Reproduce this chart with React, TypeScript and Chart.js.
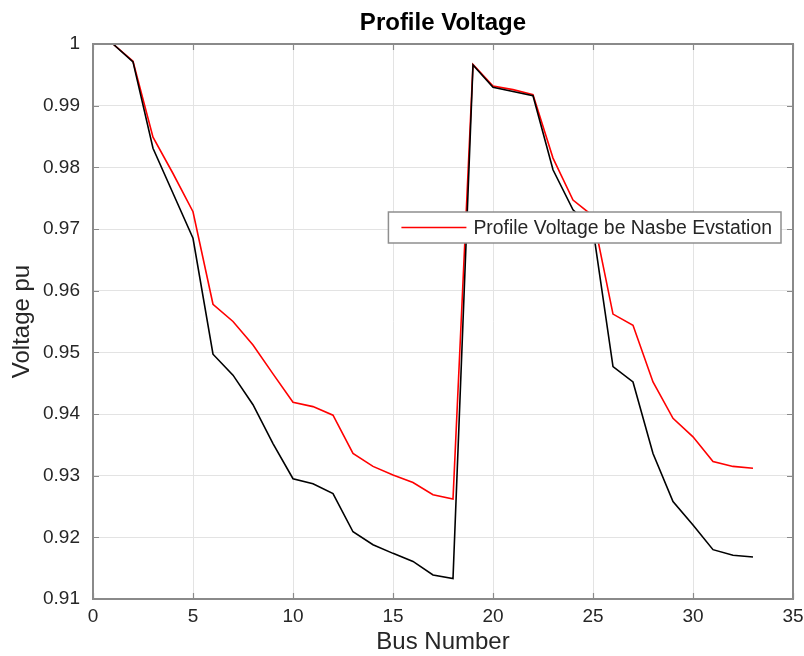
import React, { useEffect, useRef } from "react";
import { Chart, registerables } from "chart.js";

Chart.register(...registerables);

const busNumbers = [1, 2, 3, 4, 5, 6, 7, 8, 9, 10, 11, 12, 13, 14, 15, 16, 17, 18, 19, 20, 21, 22, 23, 24, 25, 26, 27, 28, 29, 30, 31, 32, 33];

const voltageBase = [
  1.0, 0.9971, 0.9831, 0.9758, 0.9685, 0.9497, 0.9463, 0.9415, 0.9352, 0.9295,
  0.9287, 0.9271, 0.9209, 0.9188, 0.9174, 0.9161, 0.9139, 0.9133, 0.9966, 0.993,
  0.9923, 0.9916, 0.9796, 0.9731, 0.97, 0.9477, 0.9452, 0.9336, 0.9258, 0.922,
  0.918, 0.9171, 0.9168,
];

const voltageEv = [
  1.0, 0.9972, 0.9849, 0.979, 0.9728, 0.9578, 0.955, 0.9512, 0.9465, 0.9419,
  0.9412, 0.9398, 0.9336, 0.9315, 0.9301, 0.9289, 0.9269, 0.9262, 0.9967, 0.9932,
  0.9926, 0.9918, 0.9815, 0.9747, 0.9721, 0.9562, 0.9544, 0.9452, 0.9393, 0.9363,
  0.9323, 0.9315, 0.9312,
];

const titleText = "Profile Voltage";
const xTitle = "Bus Number";
const yTitle = "Voltage pu";
const legendLabel = "Profile Voltage be Nasbe Evstation";
const xTicks = [0, 5, 10, 15, 20, 25, 30, 35];

const FONT = "'Liberation Sans', Arial, Helvetica, sans-serif";

const frameAndLegend = {
  id: "frameAndLegend",
  afterDraw(chart: any) {
    const { ctx, chartArea: a, scales } = chart;
    const xs = scales.x;
    const ys = scales.y;
    ctx.save();
    ctx.strokeStyle = "#8a8a8a";
    ctx.lineWidth = 1.2;
    ctx.beginPath();
    xs.ticks.forEach((t: any) => {
      const px = Math.round(xs.getPixelForValue(t.value)) + 0.5;
      ctx.moveTo(px, a.bottom);
      ctx.lineTo(px, a.bottom - 6);
      ctx.moveTo(px, a.top);
      ctx.lineTo(px, a.top + 6);
    });
    ys.ticks.forEach((t: any) => {
      const py = Math.round(ys.getPixelForValue(t.value)) + 0.5;
      ctx.moveTo(a.left, py);
      ctx.lineTo(a.left + 6, py);
      ctx.moveTo(a.right, py);
      ctx.lineTo(a.right - 6, py);
    });
    ctx.stroke();
    ctx.strokeStyle = "#8a8a8a";
    ctx.lineWidth = 2;
    ctx.strokeRect(a.left, a.top, a.right - a.left, a.bottom - a.top);

    ctx.font = `19.4px ${FONT}`;
    const tw = ctx.measureText(legendLabel).width;
    const w = 85 + tw + 9;
    const h = 31;
    const right = a.right - 12;
    const left = right - w;
    const top = a.top + 168;
    ctx.fillStyle = "#ffffff";
    ctx.fillRect(left, top, w, h);
    ctx.strokeStyle = "#8f8f8f";
    ctx.lineWidth = 1.5;
    ctx.strokeRect(left, top, w, h);
    const my = top + h / 2;
    ctx.strokeStyle = "#ff0000";
    ctx.lineWidth = 1.5;
    ctx.beginPath();
    ctx.moveTo(left + 13, my);
    ctx.lineTo(left + 78, my);
    ctx.stroke();
    ctx.fillStyle = "#262626";
    ctx.textBaseline = "middle";
    ctx.textAlign = "left";
    ctx.fillText(legendLabel, left + 85, my + 1);
    ctx.restore();
  },
};

export default function App() {
  const ref = useRef<HTMLCanvasElement | null>(null);

  useEffect(() => {
    document.body.style.margin = "0";
    const canvas = ref.current;
    if (!canvas) return;
    const chart = new Chart(canvas, {
      type: "line",
      data: {
        datasets: [
          {
            label: "Profile Voltage",
            data: busNumbers.map((b, i) => ({ x: b, y: voltageBase[i] })),
            borderColor: "#000000",
            backgroundColor: "#000000",
            borderWidth: 1.6,
            pointRadius: 0,
            tension: 0,
          },
          {
            label: legendLabel,
            data: busNumbers.map((b, i) => ({ x: b, y: voltageEv[i] })),
            borderColor: "#ff0000",
            backgroundColor: "#ff0000",
            borderWidth: 1.6,
            pointRadius: 0,
            tension: 0,
          },
        ],
      },
      options: {
        animation: false,
        responsive: true,
        maintainAspectRatio: false,
        layout: { padding: { left: 0, right: 11, top: 0, bottom: 0 } },
        plugins: {
          legend: { display: false },
          tooltip: { enabled: false },
          title: {
            display: true,
            fullSize: false,
            text: titleText,
            color: "#000000",
            font: { family: FONT, size: 24, weight: "bold", lineHeight: 1.2 },
            padding: { top: 9, bottom: 6.2 },
          },
        },
        scales: {
          x: {
            type: "linear",
            min: 0,
            max: 35,
            afterBuildTicks: (s: any) => {
              s.ticks = xTicks.map((v) => ({ value: v }));
            },
            afterFit: (s: any) => {
              s.height = 57;
              s.paddingLeft = 0;
              s.paddingRight = 0;
            },
            grid: { color: "#e3e3e3", lineWidth: 1, drawTicks: false },
            border: { display: false },
            ticks: {
              color: "#262626",
              padding: 6,
              maxRotation: 0,
              font: { family: FONT, size: 19 },
            },
            title: {
              display: true,
              text: xTitle,
              color: "#262626",
              font: { family: FONT, size: 24, lineHeight: 1.2 },
              padding: { top: 0, bottom: -1 },
            },
          },
          y: {
            type: "linear",
            min: 0.91,
            max: 1,
            afterFit: (s: any) => {
              s.width = 93;
            },
            grid: { color: "#e3e3e3", lineWidth: 1, drawTicks: false },
            border: { display: false },
            ticks: {
              stepSize: 0.01,
              color: "#262626",
              padding: 13,
              font: { family: FONT, size: 19 },
              callback: (v: any) => String(Number(Number(v).toFixed(2))),
            },
            title: {
              display: true,
              text: yTitle,
              color: "#262626",
              font: { family: FONT, size: 24, lineHeight: 1.2 },
              padding: { top: 8, bottom: 0 },
            },
          },
        },
      },
      plugins: [frameAndLegend],
    });
    return () => chart.destroy();
  }, []);

  return (
    <div style={{ position: "relative", width: "804px", height: "656px" }}>
      <canvas ref={ref} />
    </div>
  );
}
